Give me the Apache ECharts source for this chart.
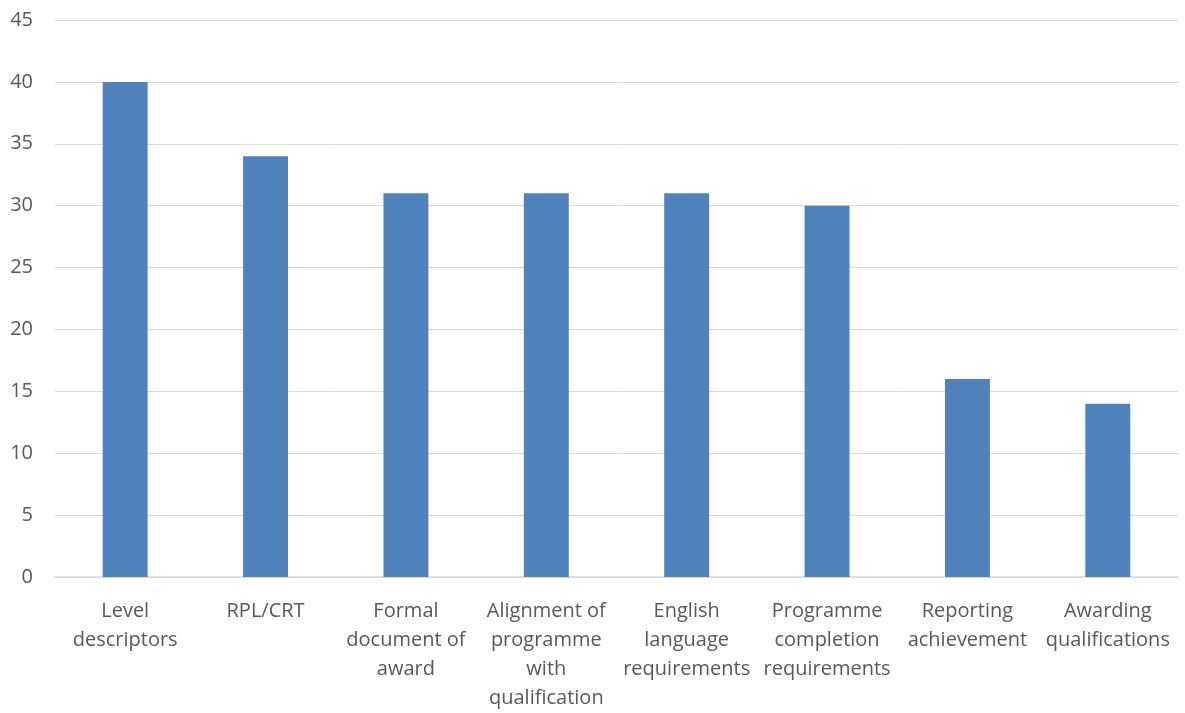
<!DOCTYPE html>
<html>
<head>
<meta charset="utf-8">
<script src="https://cdn.jsdelivr.net/npm/echarts@6/dist/echarts.min.js"></script>
<style>
html,body{margin:0;padding:0;background:#fff;}
#chart{width:1185px;height:713px;}
</style>
</head>
<body>
<div id="chart"></div>
<script>
const categories = [
  'Level\ndescriptors',
  'RPL/CRT',
  'Formal\ndocument of\naward',
  'Alignment of\nprogramme\nwith\nqualification',
  'English\nlanguage\nrequirements',
  'Programme\ncompletion\nrequirements',
  'Reporting\nachievement',
  'Awarding\nqualifications'
];
const values = [40, 34, 31, 31, 31, 30, 16, 14];
const yTicks = { min: 0, max: 45, interval: 5 };

const chart = echarts.init(document.getElementById('chart'));
chart.setOption({
  animation: false,
  grid: { left: 55, right: 7, top: 20, bottom: 132, containLabel: false },
  xAxis: {
    type: 'category',
    data: categories,
    axisLine: { lineStyle: { color: '#d9d9d9', width: 1.5 } },
    axisTick: { show: false },
    axisLabel: {
      interval: 0,
      color: '#595959',
      fontFamily: 'Open Sans',
      fontSize: 20,
      lineHeight: 29,
      margin: 20
    }
  },
  yAxis: {
    type: 'value',
    min: yTicks.min, max: yTicks.max, interval: yTicks.interval,
    axisLine: { show: false },
    axisTick: { show: false },
    splitLine: { lineStyle: { color: '#d9d9d9', width: 1 } },
    axisLabel: {
      color: '#595959',
      fontFamily: 'Open Sans',
      fontSize: 20,
      margin: 22
    }
  },
  series: [{
    type: 'bar',
    data: values,
    barWidth: '32%',
    itemStyle: { color: '#4f81bd' }
  }]
});
</script>
</body>
</html>
